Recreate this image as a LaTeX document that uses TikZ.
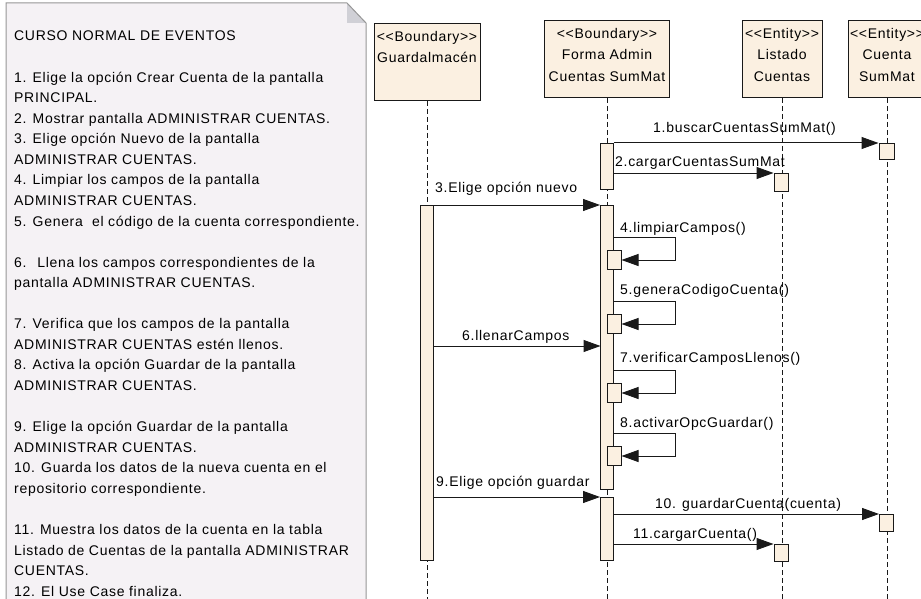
\documentclass[tikz,border=0pt]{standalone}
\usepackage{fontspec}
\setmainfont{Liberation Sans}[LetterSpace=5]
\usetikzlibrary{arrows.meta}

\definecolor{notefill}{RGB}{245,242,245}
\definecolor{noteline}{RGB}{150,150,150}
\definecolor{foldfill}{RGB}{208,208,214}
\definecolor{boxfill}{RGB}{251,240,225}
\definecolor{umlline}{RGB}{25,25,25}

\tikzset{
  head/.style={draw=umlline, fill=boxfill, line width=1pt, anchor=north,
    minimum height=77pt, inner sep=0pt},
  headtext/.style={anchor=north, align=center, inner sep=0pt,
    font=\fontsize{14}{21.5}\selectfont},
  lifeline/.style={draw=umlline, line width=1pt, dash pattern=on 5pt off 3pt},
  bar/.style={draw=umlline, fill=boxfill, line width=1pt, anchor=north,
    minimum width=13pt, inner sep=0pt},
  selfbox/.style={draw=umlline, fill=boxfill, line width=1pt,
    minimum width=14pt, minimum height=19pt, inner sep=0pt},
  msg/.style={draw=umlline, line width=1pt, -{Triangle[length=17pt,width=12pt]}},
  lbl/.style={anchor=base west, inner sep=0pt, font=\fontsize{14}{17}\selectfont},
  notetext/.style={anchor=base west, inner sep=0pt, font=\fontsize{14}{17}\selectfont}
}

\begin{document}
\begin{tikzpicture}[x=1pt, y=-1pt]
  \useasboundingbox (0,0) rectangle (921,599);
  \coordinate (bot) at (0,600);

  % nota con el curso normal de eventos
  \fill[notefill] (6,3) -- (347,3) -- (366,23) -- (366,600) -- (6,600) -- cycle;
  \fill[foldfill] (347,3) -- (347,23) -- (366,23) -- cycle;
  \draw[noteline, line width=1pt] (6,600) -- (6,3) -- (347,3) -- (366,23) -- (366,600);
  \foreach \k/\t in {0/CURSO NORMAL DE EVENTOS,
      2/1. Elige la opción Crear Cuenta de la pantalla,
      3/PRINCIPAL.,
      4/2. Mostrar pantalla ADMINISTRAR CUENTAS.,
      5/3. Elige opción Nuevo de la pantalla,
      6/ADMINISTRAR CUENTAS.,
      7/4. Limpiar los campos de la pantalla,
      8/ADMINISTRAR CUENTAS.,
      9/5. Genera \ el código de la cuenta correspondiente.,
      11/6. \ Llena los campos correspondientes de la,
      12/pantalla ADMINISTRAR CUENTAS.,
      14/7. Verifica que los campos de la pantalla,
      15/ADMINISTRAR CUENTAS estén llenos.,
      16/8. Activa la opción Guardar de la pantalla,
      17/ADMINISTRAR CUENTAS.,
      19/9. Elige la opción Guardar de la pantalla,
      20/ADMINISTRAR CUENTAS.,
      21/10. Guarda los datos de la nueva cuenta en el,
      22/repositorio correspondiente.,
      24/11. Muestra los datos de la cuenta en la tabla,
      25/Listado de Cuentas de la pantalla ADMINISTRAR,
      26/CUENTAS.,
      27/12. El Use Case finaliza.}
    \node[notetext] (ev\k) at (14,{41+\k*20.56}) {\t};

  % cabeceras de los objetos
  \node[head, minimum width=106pt] (gua) at (427,23) {};
  \node[head, minimum width=125pt] (forma) at (607,20) {};
  \node[head, minimum width=80pt] (listado) at (782,20) {};
  \node[head, minimum width=78pt] (cuenta) at (887,20) {};
  \node[headtext] (guaT) at ([yshift=-8pt]gua.north) {<{}<Boundary>{}>\\Guardalmacén};
  \node[headtext] (formaT) at ([yshift=-8pt]forma.north) {<{}<Boundary>{}>\\Forma Admin\\Cuentas SumMat};
  \node[headtext] (listadoT) at ([yshift=-8pt]listado.north) {<{}<Entity>{}>\\Listado\\Cuentas};
  \node[headtext] (cuentaT) at ([yshift=-8pt]cuenta.north) {<{}<Entity>{}>\\Cuenta\\SumMat};

  % lineas de vida
  \draw[lifeline] (gua.south) -- (gua.south |- bot);
  \draw[lifeline] (forma.south) -- (forma.south |- bot);
  \draw[lifeline] (listado.south) -- (listado.south |- bot);
  \draw[lifeline] (cuenta.south) -- (cuenta.south |- bot);

  % activaciones
  \node[bar, minimum height=355pt] (bar1) at (427,205) {};
  \node[bar, minimum height=46pt] (bar2a) at (607,143) {};
  \node[bar, minimum height=284pt] (bar2b) at (607,205) {};
  \node[bar, minimum height=63pt] (bar2c) at (607,497) {};
  \node[bar, minimum width=15pt, minimum height=16pt] (act1) at (886.5,143) {};
  \node[bar, minimum width=14pt, minimum height=18pt] (act2) at (781,173) {};
  \node[bar, minimum width=14pt, minimum height=17pt] (act10) at (886.5,514) {};
  \node[bar, minimum width=14pt, minimum height=17pt] (act11) at (781,544) {};
  \node[selfbox] (s4) at (614,260) {};
  \node[selfbox] (s5) at (614,324) {};
  \node[selfbox] (s7) at (614,393) {};
  \node[selfbox] (s8) at (614,456) {};
  \coordinate (in6) at (600.5,346);

  % mensajes
  \draw[msg] (act1.north west -| bar2a.east) -- (act1.north west);
  \draw[msg] (act2.north west -| bar2a.east) -- (act2.north west);
  \draw[msg] (bar2b.north west -| bar1.east) -- (bar2b.north west);
  \draw[msg] (s4.east -| bar2b.east) ++(0,-23) -- ++(61,0) |- (s4.east);
  \draw[msg] (s5.east -| bar2b.east) ++(0,-23) -- ++(61,0) |- (s5.east);
  \draw[msg] (in6 -| bar1.east) -- (in6);
  \draw[msg] (s7.east -| bar2b.east) ++(0,-23) -- ++(61,0) |- (s7.east);
  \draw[msg] (s8.east -| bar2b.east) ++(0,-23) -- ++(61,0) |- (s8.east);
  \draw[msg] (bar2c.north west -| bar1.east) -- (bar2c.north west);
  \draw[msg] (act10.north west -| bar2c.east) -- (act10.north west);
  \draw[msg] (act11.north west -| bar2c.east) -- (act11.north west);

  % etiquetas
  \node[lbl] (m1) at (653,133) {1.buscarCuentasSumMat()};
  \node[lbl] (m2) at (615,167) {2.cargarCuentasSumMat};
  \node[lbl] (m3) at (435,192) {3.Elige opción nuevo};
  \node[lbl] (m4) at (620,232) {4.limpiarCampos()};
  \node[lbl] (m5) at (620,294) {5.generaCodigoCuenta()};
  \node[lbl] (m6) at (462,340) {6.llenarCampos};
  \node[lbl] (m7) at (620,362) {7.verificarCamposLlenos()};
  \node[lbl] (m8) at (620,427) {8.activarOpcGuardar()};
  \node[lbl] (m9) at (436,486) {9.Elige opción guardar};
  \node[lbl] (m10) at (655,508) {10. guardarCuenta(cuenta)};
  \node[lbl] (m11) at (633,538) {11.cargarCuenta()};
\end{tikzpicture}
\end{document}
